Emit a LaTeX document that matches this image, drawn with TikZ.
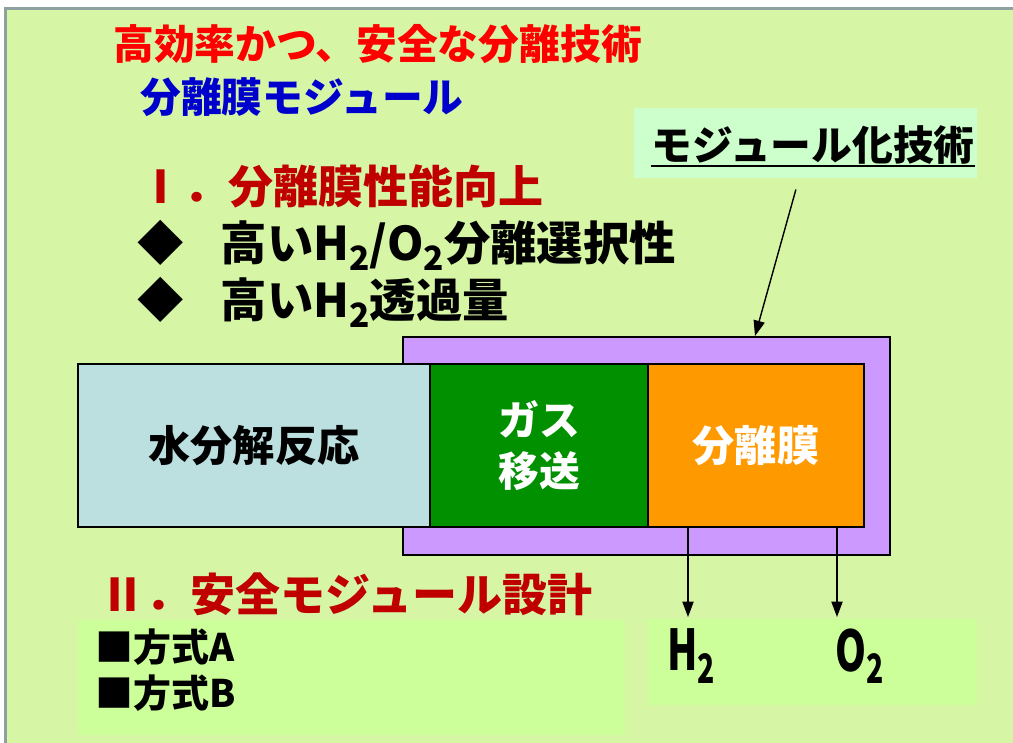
\documentclass[tikz,border=0pt]{standalone}
\usepackage{fontspec}
\setmainfont{Noto Sans CJK JP}
\usetikzlibrary{arrows.meta}

\definecolor{bggreen}{RGB}{214,246,166}
\definecolor{framegray}{RGB}{143,160,160}
\definecolor{mintbox}{RGB}{204,255,204}
\definecolor{limebox}{RGB}{204,255,153}
\definecolor{modpurple}{RGB}{204,153,255}
\definecolor{reactblue}{RGB}{188,223,224}
\definecolor{gasgreen}{RGB}{0,144,0}
\definecolor{memborange}{RGB}{255,153,0}
\definecolor{titlered}{RGB}{255,0,0}
\definecolor{secred}{RGB}{192,0,0}
\definecolor{subblue}{RGB}{0,0,204}

\newcommand\subtwo{\raisebox{-0.22em}{\scalebox{0.72}{2}}}
\newcommand\fsz[1]{\fontsize{#1}{#1}\selectfont\bfseries}

\begin{document}
\begin{tikzpicture}[
    x=0.025cm, y=-0.025cm,
    txt/.style={inner sep=0pt, anchor=west},
    headline/.style={txt, font=\fsz{29}, color=titlered},
    subline/.style={txt, font=\fsz{29}, color=subblue},
    section/.style={txt, font=\fsz{32}, color=secred},
    bullet/.style={txt, font=\fsz{33}},
    item/.style={txt, font=\fsz{27}},
    block/.style={draw=black, line width=1.3pt, inner sep=0pt, align=center},
    panel/.style={inner sep=0pt},
    arr/.style={-{Triangle[length=11pt,width=8pt]}, line width=1pt},
]
    \useasboundingbox (0,0) rectangle (1013,743);

    % ============= background =============
    \fill[white] (0,0) rectangle (1013,743);
    \fill[framegray] (4,7) rectangle (1013,743);
    \fill[bggreen] (7,10) rectangle (1013,743);

    % ============= headings =============
    \node[headline] (title) at (113,44) {高効率かつ、安全な分離技術};
    \node[subline] (subtitle) at (140,97) {分離膜モジュール};

    \node[panel, fill=mintbox, minimum width=8.575cm, minimum height=1.75cm] (modbox) at (805.5,143) {};
    \node[inner sep=0pt, font=\fsz{29}] (modlabel) at (813,145) {モジュール化技術};
    \draw[line width=2pt] ([yshift=-1pt]modlabel.south west) -- ([yshift=-1pt]modlabel.south east);

    % ============= I. membrane performance =============
    \node[section] (secA) at (138,186) {Ⅰ．分離膜性能向上};
    \node[bullet] (itemA1) at (137,245) {◆\hspace{0.8em}高いH\subtwo/O\subtwo 分離選択性};
    \node[bullet] (itemA2) at (137,302) {◆\hspace{0.8em}高いH\subtwo 透過量};

    % ============= module blocks =============
    \node[block, fill=modpurple, minimum width=12.175cm, minimum height=5.45cm] (frame) at (646.5,446) {};
    \node[block, fill=reactblue, minimum width=8.8cm, minimum height=4.075cm,
          font=\fsz{30}] (react) at (254,445.5) {水分解反応};
    \node[block, fill=gasgreen, minimum width=5.45cm, minimum height=4.075cm,
          font=\fontsize{29}{36}\selectfont\bfseries, text=white] (gas) at (539,445.5) {ガス\\移送};
    \node[block, fill=memborange, minimum width=5.4cm, minimum height=4.075cm,
          font=\fsz{30}, text=white] (memb) at (756,445.5) {分離膜};

    % ============= II. safe module design =============
    \node[section] (secB) at (100,594) {Ⅱ．安全モジュール設計};
    \node[panel, fill=limebox, minimum width=13.675cm, minimum height=2.875cm] (methods) at (351.5,677.5) {};
    \node[item] (methodA) at (95,647) {■方式A};
    \node[item] (methodB) at (95,693) {■方式B};

    \node[panel, fill=limebox, minimum width=8.25cm, minimum height=2.15cm] (products) at (812,662) {};
    \node[inner sep=0pt, font=\fsz{40}] (h2) at (691,656) {\scalebox{0.7}[1]{H\subtwo}};
    \node[inner sep=0pt, font=\fsz{40}] (o2) at (860,656) {\scalebox{0.7}[1]{O\subtwo}};

    % ============= arrows =============
    \coordinate (modtip) at (755,0);
    \draw[arr] ([xshift=-0.24cm, yshift=-0.28cm]modbox.south) -- (frame.north -| modtip);
    \coordinate (h2end) at (688,617);
    \coordinate (o2end) at (837,617);
    \draw[arr] (memb.south -| h2end) -- (h2end);
    \draw[arr] (memb.south -| o2end) -- (o2end);
\end{tikzpicture}
\end{document}
